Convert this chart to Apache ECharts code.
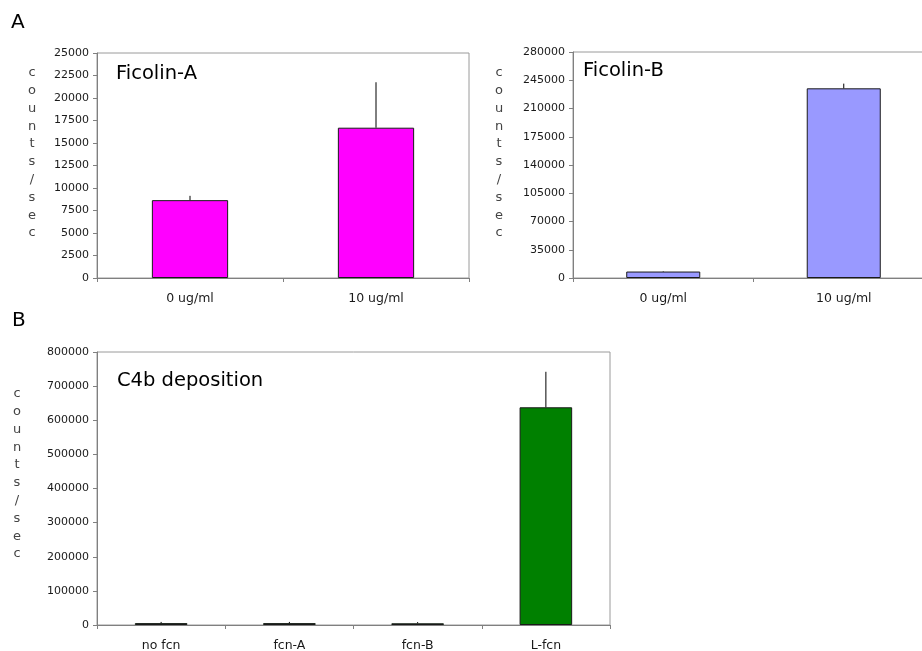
<!DOCTYPE html>
<html>
<head>
<meta charset="utf-8">
<script src="https://cdn.jsdelivr.net/npm/echarts@6/dist/echarts.min.js"></script>
<style>html,body{margin:0;padding:0;background:#fff;}#c{width:922px;height:651px;}</style>
</head>
<body>
<div id="c"></div>
<script>
// ---- data ----
const catsA = ['0 ug/ml', '10 ug/ml'];
const valsA = [8650, 16700];
const errsA = [480, 5050];
const ticksA = [0, 2500, 5000, 7500, 10000, 12500, 15000, 17500, 20000, 22500, 25000];

const catsB = ['0 ug/ml', '10 ug/ml'];
const valsB = [8000, 235000];
const errsB = [600, 5800];
const ticksB = [0, 35000, 70000, 105000, 140000, 175000, 210000, 245000, 280000];

const catsC = ['no fcn', 'fcn-A', 'fcn-B', 'L-fcn'];
const valsC = [5500, 5500, 5000, 638000];
const errsC = [3500, 3500, 3500, 104000];
const ticksC = [0, 100000, 200000, 300000, 400000, 500000, 600000, 700000, 800000];

const yTitle = 'counts/sec';

// ---- chart ----
const FONT = '"DejaVu Sans", Verdana, sans-serif';
const chart = echarts.init(document.getElementById('c'));

function yAxisFor(ticks, gi) {
  return {
    type: 'value', gridIndex: gi,
    min: ticks[0], max: ticks[ticks.length - 1], interval: ticks[1] - ticks[0],
    splitLine: { show: false },
    axisLine: { show: true, lineStyle: { color: '#808080', width: 1 } },
    axisTick: { show: true, length: 4, lineStyle: { color: '#808080' } },
    axisLabel: { formatter: v => String(v), fontFamily: FONT, fontSize: 11, color: '#1a1a1a', margin: 8 }
  };
}
function xAxisFor(cats, gi) {
  return {
    type: 'category', gridIndex: gi, data: cats, boundaryGap: true,
    axisLine: { show: true, lineStyle: { color: '#808080', width: 1 } },
    axisTick: { show: true, length: 4, alignWithLabel: false, lineStyle: { color: '#808080' } },
    axisLabel: { fontFamily: FONT, fontSize: 12.5, color: '#1a1a1a', margin: 14 }
  };
}
function barSeries(vals, gi, color) {
  return {
    type: 'bar', xAxisIndex: gi, yAxisIndex: gi, data: vals, barWidth: '41%',
    itemStyle: { color: color, borderColor: '#1a1a1a', borderWidth: 1 },
    silent: true, animation: false
  };
}
function errSeries(vals, errs, gi) {
  return {
    type: 'custom', xAxisIndex: gi, yAxisIndex: gi, z: 5, silent: true, animation: false,
    data: vals.map((v, i) => [i, v, errs[i]]),
    encode: { x: 0, y: 1 },
    renderItem: function (params, api) {
      const i = api.value(0), v = api.value(1), e = api.value(2);
      const p0 = api.coord([i, v]);
      const p1 = api.coord([i, v + e]);
      return { type: 'line', shape: { x1: p0[0], y1: p0[1], x2: p1[0], y2: p1[1] },
               style: { stroke: '#000', lineWidth: 1 } };
    }
  };
}
function vText(x, y) {
  return { type: 'text', x: x, y: y,
    style: { text: yTitle.split('').join('\n'), font: '13px ' + FONT, fill: '#444',
             lineHeight: 17.8, align: 'center', verticalAlign: 'top' } };
}
function label(text, x, y, size) {
  return { type: 'text', x: x, y: y,
    style: { text: text, font: size + 'px ' + FONT, fill: '#000', verticalAlign: 'top' } };
}

const gridStyle = { show: true, borderColor: '#9a9a9a', borderWidth: 1, backgroundColor: '#fff',
                    outerBoundsMode: 'none', containLabel: false };

chart.setOption({
  backgroundColor: '#fff',
  animation: false,
  grid: [
    Object.assign({ left: 97, top: 53, width: 372, height: 225 }, gridStyle),
    Object.assign({ left: 573, top: 52, width: 361, height: 226 }, gridStyle),
    Object.assign({ left: 97, top: 352, width: 513, height: 273 }, gridStyle)
  ],
  xAxis: [xAxisFor(catsA, 0), xAxisFor(catsB, 1), xAxisFor(catsC, 2)],
  yAxis: [yAxisFor(ticksA, 0), yAxisFor(ticksB, 1), yAxisFor(ticksC, 2)],
  series: [
    barSeries(valsA, 0, '#ff00ff'), errSeries(valsA, errsA, 0),
    barSeries(valsB, 1, '#9999ff'), errSeries(valsB, errsB, 1),
    barSeries(valsC, 2, '#008000'), errSeries(valsC, errsC, 2)
  ],
  graphic: [
    vText(32, 64), vText(499, 64), vText(17, 385),
    label('A', 11, 13, 20), label('B', 12, 311, 20),
    label('Ficolin-A', 116, 64, 19.5), label('Ficolin-B', 583, 61, 19.5),
    label('C4b deposition', 117, 371, 19.5)
  ]
});
</script>
</body>
</html>
